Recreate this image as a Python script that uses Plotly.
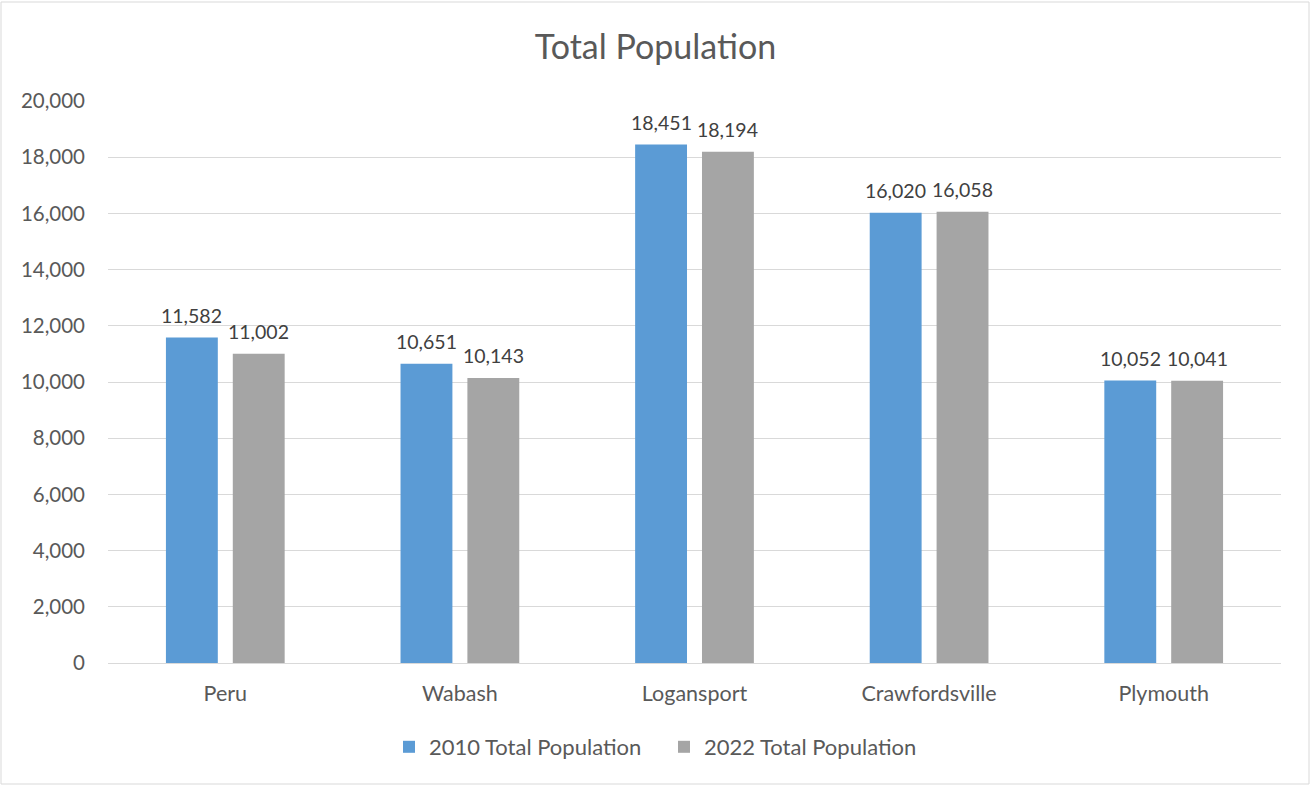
import plotly.graph_objects as go

cities = ["Peru", "Wabash", "Logansport", "Crawfordsville", "Plymouth"]
pop_2010 = [11582, 10651, 18451, 16020, 10052]
pop_2022 = [11002, 10143, 18194, 16058, 10041]
y_ticks = list(range(0, 20001, 2000))

FONT = "Lato"
TEXT = "#595959"

W, H = 1311, 786
ML, MR, MT, MB = 108, 30, 101, 123
PW, PH = W - ML - MR, H - MT - MB

BARGAP, GROUPGAP = 0.43, 0.224
slot_px = PW / len(cities) * (1 - BARGAP) / 2  # width of one bar's slot in pixels

series = [
    ("2010 Total Population", pop_2010, "#5B9BD5", -slot_px / 2),
    ("2022 Total Population", pop_2022, "#A5A5A5", slot_px / 2),
]

fig = go.Figure()
annotations = []
for name, vals, color, shift in series:
    fig.add_trace(go.Bar(
        x=cities, y=vals, name=name,
        marker=dict(color=color, line=dict(width=0)),
    ))
    for c, v in zip(cities, vals):
        annotations.append(dict(
            x=c, y=v, xref="x", yref="y", text=f"{v:,}", showarrow=False,
            xshift=shift, yshift=9, yanchor="bottom",
            font=dict(family=FONT, size=19.5, color="#404040"),
        ))

fig.update_layout(
    width=W, height=H,
    margin=dict(l=ML, r=MR, t=MT, b=MB),
    paper_bgcolor="white", plot_bgcolor="white",
    barmode="group", bargap=BARGAP, bargroupgap=GROUPGAP,
    title=dict(text="Total Population", x=0.5, xanchor="center",
               y=1 - 47 / H, yanchor="middle",
               font=dict(family=FONT, size=34, color=TEXT)),
    font=dict(family=FONT, color=TEXT),
    showlegend=True,
    legend=dict(orientation="h", x=(389 - ML) / PW, xanchor="left",
                y=-(747 - 663) / PH, yanchor="middle",
                font=dict(family=FONT, size=22, color=TEXT),
                itemwidth=30, entrywidth=230, entrywidthmode="pixels",
                traceorder="normal"),
    xaxis=dict(showgrid=False, showline=True, linecolor="#D9D9D9", linewidth=1,
               ticks="", ticklabelstandoff=11,
               tickfont=dict(family=FONT, size=21.5, color=TEXT)),
    yaxis=dict(range=[0, 20000], tickvals=y_ticks,
               ticktext=[f"{v:,}" for v in y_ticks],
               showgrid=True, gridcolor="#D9D9D9", gridwidth=1,
               zeroline=False, showline=False, ticks="",
               ticklabelstandoff=22,
               tickfont=dict(family=FONT, size=20.5, color=TEXT)),
    annotations=annotations,
    shapes=[dict(type="rect", xref="paper", yref="paper",
                 x0=(1 - ML) / PW, x1=(W - 2 - ML) / PW,
                 y0=-(H - 2 - MT - PH) / PH, y1=(MT - 2) / PH + 1,
                 line=dict(color="#D9D9D9", width=1), layer="below")],
)

fig.write_html("out.html")
